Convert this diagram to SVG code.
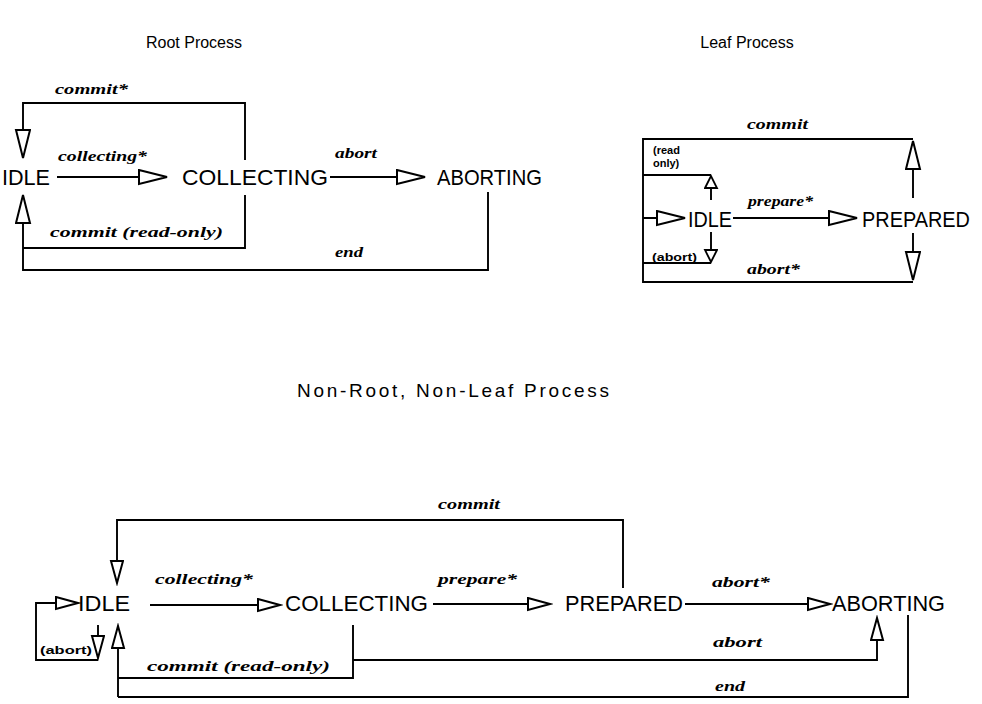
<svg xmlns="http://www.w3.org/2000/svg" width="982" height="704" viewBox="0 0 982 704">
<style>
.title{font-family:"Liberation Sans",Arial,sans-serif;font-size:16px;fill:#000}
.big-title{font-size:19px}
.state{font-family:"Liberation Sans",Arial,sans-serif;font-size:22px;fill:#000}
.lbl{font-family:"Liberation Serif","Times New Roman",serif;font-size:14px;font-weight:bold;font-style:italic;fill:#000}
.note{font-family:"Liberation Sans",Arial,sans-serif;font-size:11px;font-weight:bold;fill:#000}
.c{fill:none;stroke:#000;stroke-width:1.9}
</style>
<defs>
<marker id="big" markerUnits="userSpaceOnUse" markerWidth="32" markerHeight="18" refX="29" refY="8" orient="auto" viewBox="0 0 32 18">
<path d="M1,1 L29,8 L1,15 Z" fill="#fff" stroke="#000" stroke-width="2"/>
</marker>
<marker id="mid" markerUnits="userSpaceOnUse" markerWidth="26" markerHeight="16" refX="23" refY="7" orient="auto" viewBox="0 0 26 16">
<path d="M1,1 L23,7 L1,13 Z" fill="#fff" stroke="#000" stroke-width="2"/>
</marker>
<marker id="small" markerUnits="userSpaceOnUse" markerWidth="16" markerHeight="16" refX="13" refY="7" orient="auto" viewBox="0 0 16 16">
<path d="M1,1 L13,7 L1,13 Z" fill="#fff" stroke="#000" stroke-width="1.8"/>
</marker>
</defs>
<rect width="982" height="704" fill="#fff"/>

<!-- Titles -->
<text class="title" x="194" y="48" text-anchor="middle">Root Process</text>
<text class="title" x="747" y="48" text-anchor="middle">Leaf Process</text>
<text class="title big-title" x="297" y="397" textLength="312" lengthAdjust="spacing">Non-Root, Non-Leaf Process</text>

<!-- Root process connectors -->
<g id="root-connectors">
<path class="c" d="M245,160 V103 H23 V158" marker-end="url(#big)"/>
<path class="c" d="M57,177 H167" marker-end="url(#big)"/>
<path class="c" d="M330,177 H425" marker-end="url(#big)"/>
<path class="c" d="M245,195 V248 H23"/>
<path class="c" d="M488,192 V270 H23 V195" marker-end="url(#big)"/>
<text class="lbl" x="55" y="94" textLength="73" lengthAdjust="spacingAndGlyphs">commit*</text>
<text class="lbl" x="58" y="161" textLength="89" lengthAdjust="spacingAndGlyphs">collecting*</text>
<text class="lbl" x="335" y="158" textLength="42" lengthAdjust="spacingAndGlyphs">abort</text>
<text class="lbl" x="50" y="237" textLength="173" lengthAdjust="spacingAndGlyphs">commit (read-only)</text>
<text class="lbl" x="335" y="257" textLength="28" lengthAdjust="spacingAndGlyphs">end</text>
</g>
<g id="root-idle"><text class="state" x="2" y="185" textLength="48" lengthAdjust="spacingAndGlyphs">IDLE</text></g>
<g id="root-collecting"><text class="state" x="182" y="185" textLength="146" lengthAdjust="spacingAndGlyphs">COLLECTING</text></g>
<g id="root-aborting"><text class="state" x="437" y="185" textLength="105" lengthAdjust="spacingAndGlyphs">ABORTING</text></g>

<!-- Leaf process connectors -->
<g id="leaf-connectors">
<path class="c" d="M913,198 V141" marker-end="url(#big)"/>
<path class="c" d="M913,139 H643 V282 H913"/>
<path class="c" d="M913,233 V280" marker-end="url(#big)"/>
<path class="c" d="M643,175 H711"/>
<path class="c" d="M711,200 V176" marker-end="url(#small)"/>
<path class="c" d="M643,263 H711"/>
<path class="c" d="M711,232 V262" marker-end="url(#small)"/>
<path class="c" d="M643,218 H685" marker-end="url(#big)"/>
<path class="c" d="M733,218 H857" marker-end="url(#big)"/>
<text class="lbl" x="747" y="129" textLength="61" lengthAdjust="spacingAndGlyphs">commit</text>
<text class="note" x="653" y="154">(read</text>
<text class="note" x="653" y="167">only)</text>
<text class="note" x="652" y="261" textLength="45" lengthAdjust="spacingAndGlyphs">(abort)</text>
<text class="lbl" x="748" y="206" textLength="65" lengthAdjust="spacingAndGlyphs">prepare*</text>
<text class="lbl" x="747" y="274" textLength="53" lengthAdjust="spacingAndGlyphs">abort*</text>
</g>
<g id="leaf-idle"><text class="state" x="688" y="227" textLength="44" lengthAdjust="spacingAndGlyphs">IDLE</text></g>
<g id="leaf-prepared"><text class="state" x="862" y="227" textLength="108" lengthAdjust="spacingAndGlyphs">PREPARED</text></g>

<!-- Non-root, non-leaf connectors -->
<g id="mid-connectors">
<path class="c" d="M623,588 V520 H117 V583" marker-end="url(#mid)"/>
<path class="c" d="M150,605 H280" marker-end="url(#mid)"/>
<path class="c" d="M433,604 H550" marker-end="url(#mid)"/>
<path class="c" d="M685,604 H830" marker-end="url(#mid)"/>
<path class="c" d="M98,625 V658" marker-end="url(#mid)"/>
<path class="c" d="M98,660 H36 V603 H78" marker-end="url(#mid)"/>
<path class="c" d="M118,697 V626" marker-end="url(#mid)"/>
<path class="c" d="M353,625 V678 H118"/>
<path class="c" d="M353,660 H877 V618" marker-end="url(#mid)"/>
<path class="c" d="M908,615 V697 H118"/>
<text class="lbl" x="438" y="509" textLength="62" lengthAdjust="spacingAndGlyphs">commit</text>
<text class="lbl" x="155" y="584" textLength="98" lengthAdjust="spacingAndGlyphs">collecting*</text>
<text class="lbl" x="438" y="584" textLength="79" lengthAdjust="spacingAndGlyphs">prepare*</text>
<text class="lbl" x="712" y="587" textLength="58" lengthAdjust="spacingAndGlyphs">abort*</text>
<text class="note" x="40" y="654" textLength="52" lengthAdjust="spacingAndGlyphs">(abort)</text>
<text class="lbl" x="147" y="671" textLength="183" lengthAdjust="spacingAndGlyphs">commit (read-only)</text>
<text class="lbl" x="713" y="647" textLength="49" lengthAdjust="spacingAndGlyphs">abort</text>
<text class="lbl" x="715" y="691" textLength="30" lengthAdjust="spacingAndGlyphs">end</text>
</g>
<g id="mid-idle"><text class="state" x="78" y="611" textLength="52" lengthAdjust="spacingAndGlyphs">IDLE</text></g>
<g id="mid-collecting"><text class="state" x="285" y="611" textLength="143" lengthAdjust="spacingAndGlyphs">COLLECTING</text></g>
<g id="mid-prepared"><text class="state" x="565" y="611" textLength="118" lengthAdjust="spacingAndGlyphs">PREPARED</text></g>
<g id="mid-aborting"><text class="state" x="832" y="611" textLength="113" lengthAdjust="spacingAndGlyphs">ABORTING</text></g>
</svg>
